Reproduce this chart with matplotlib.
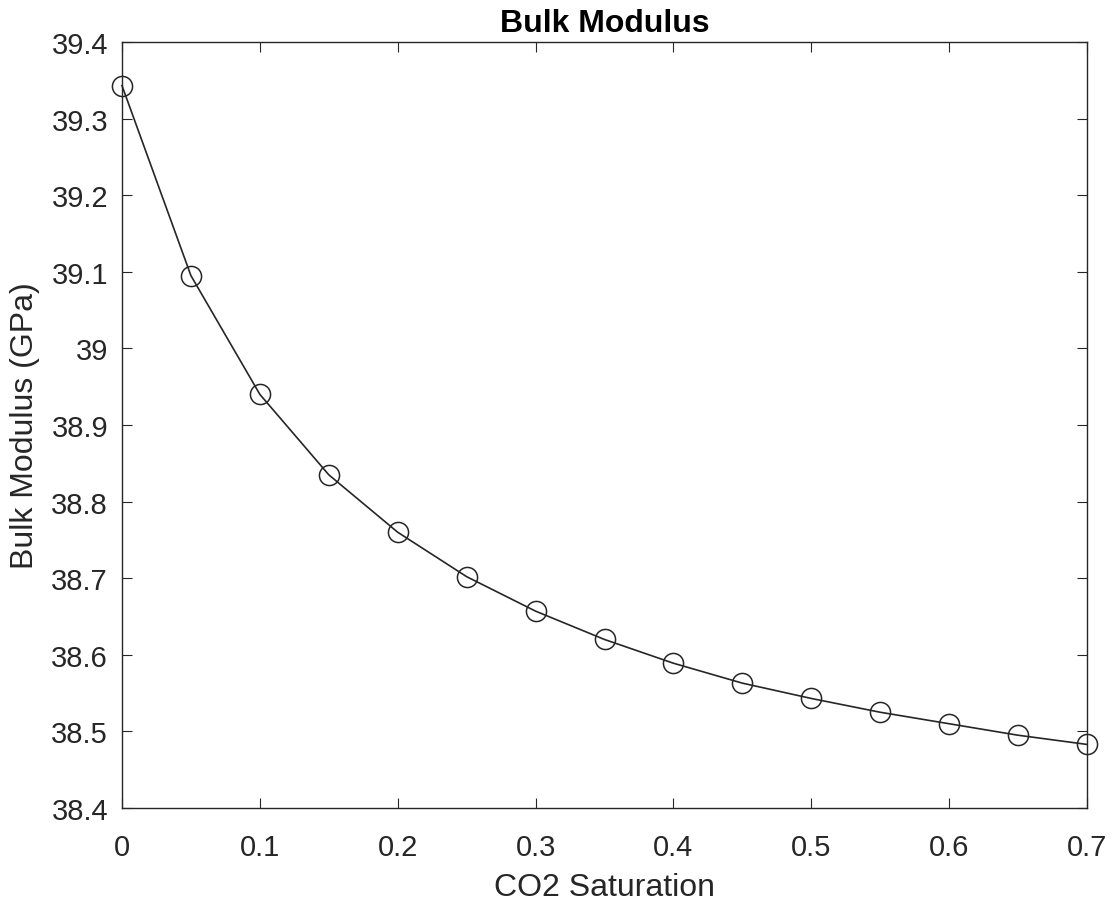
import matplotlib
matplotlib.use('Agg')
import matplotlib.pyplot as plt

# CO2 saturation vs bulk modulus (GPa)
co2_saturation = [0.0, 0.05, 0.10, 0.15, 0.20, 0.25, 0.30, 0.35,
                  0.40, 0.45, 0.50, 0.55, 0.60, 0.65, 0.70]
bulk_modulus = [39.343, 39.095, 38.940, 38.835, 38.760, 38.702, 38.657, 38.620,
                38.589, 38.563, 38.543, 38.525, 38.510, 38.495, 38.483]

x_ticks = [0, 0.1, 0.2, 0.3, 0.4, 0.5, 0.6, 0.7]
x_tick_labels = ['0', '0.1', '0.2', '0.3', '0.4', '0.5', '0.6', '0.7']
y_ticks = [38.4, 38.5, 38.6, 38.7, 38.8, 38.9, 39.0, 39.1, 39.2, 39.3, 39.4]
y_tick_labels = ['38.4', '38.5', '38.6', '38.7', '38.8', '38.9', '39', '39.1', '39.2', '39.3', '39.4']

plt.rcParams['font.family'] = ['Liberation Sans', 'DejaVu Sans']
axis_color = '#262626'

fig = plt.figure(figsize=(11.13, 9.03), dpi=100)
ax = fig.add_axes([122 / 1113, 1 - 809 / 903, (1087 - 122) / 1113, (809 - 43) / 903])

ax.plot(co2_saturation, bulk_modulus, color='#262626', linewidth=1.2,
        marker='o', markersize=14.5, markerfacecolor='none',
        markeredgecolor='#262626', markeredgewidth=1.1, clip_on=False)

ax.set_xlim(0, 0.7)
ax.set_ylim(38.4, 39.4)
ax.set_xticks(x_ticks)
ax.set_xticklabels(x_tick_labels)
ax.set_yticks(y_ticks)
ax.set_yticklabels(y_tick_labels)

# MATLAB-style box: inward ticks on all four sides
ax.tick_params(direction='in', length=7, width=0.8, top=True, right=True,
               labelsize=21, colors=axis_color)
ax.tick_params(axis='x', pad=18)
ax.tick_params(axis='y', pad=10)
for spine in ax.spines.values():
    spine.set_color(axis_color)
    spine.set_linewidth(1.0)

ax.set_xlabel('CO2 Saturation', fontsize=23, color=axis_color, labelpad=8)
ax.set_ylabel('Bulk Modulus (GPa)', fontsize=23, color=axis_color, labelpad=8.5)
ax.set_title('Bulk Modulus', fontsize=23, fontweight='bold', color='black', pad=8)

fig.savefig('out.png', dpi=100)
plt.close(fig)
